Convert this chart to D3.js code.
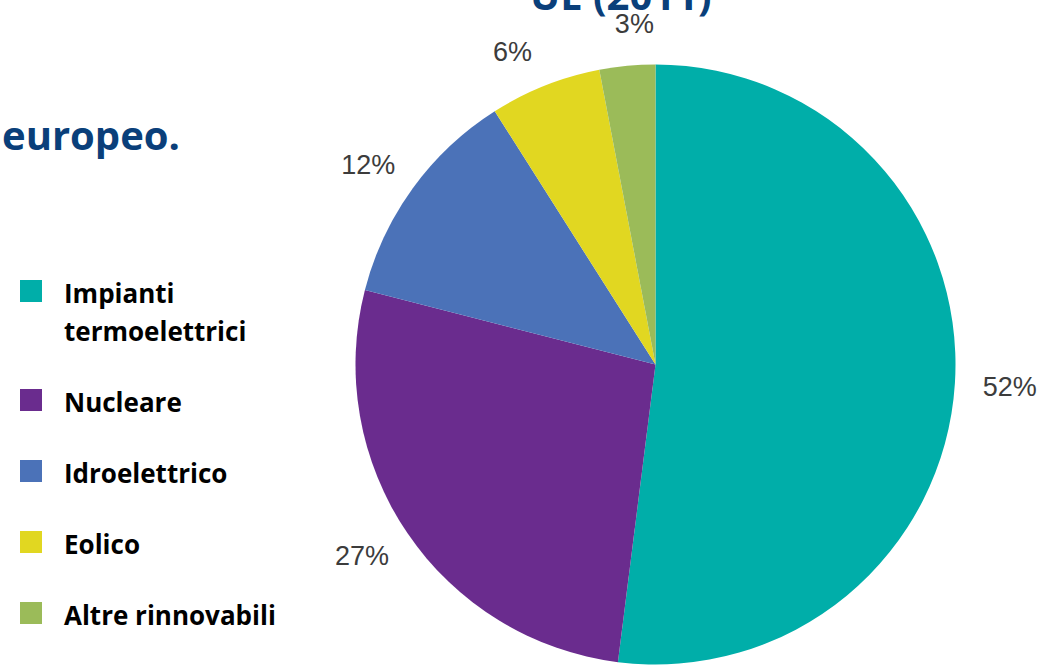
<!DOCTYPE html>
<html>
<head>
<meta charset="utf-8">
<script src="https://cdn.jsdelivr.net/npm/d3@7"></script>
<style>
  html, body { margin: 0; padding: 0; background: #fff; }
  svg { display: block; }
</style>
</head>
<body>
<script>
const categories = ["Impianti termoelettrici", "Nucleare", "Idroelettrico", "Eolico", "Altre rinnovabili"]
const legendLines = [["Impianti", "termoelettrici"], ["Nucleare"], ["Idroelettrico"], ["Eolico"], ["Altre rinnovabili"]]
const shares = [52, 27, 12, 6, 3]
const colors = ["#00aea9", "#6a2c8e", "#4b72b8", "#e1d721", "#9bbb59"]
const titleTop = "UE (2011)"
const titleLeft = "europeo."

const width = 1057, height = 666
const cx = 655.5, cy = 364.5, radius = 300

const svg = d3.select("body").append("svg")
    .attr("width", width)
    .attr("height", height)

// pezzi della torta, in senso orario da ore 12
const pie = d3.pie().sort(null).value(d => d)
const arcs = pie(shares)
const arc = d3.arc().innerRadius(0).outerRadius(radius)

const pieGroup = svg.append("g").attr("transform", `translate(${cx},${cy})`)

pieGroup.selectAll("path")
    .data(arcs)
    .join("path")
    .attr("d", arc)
    .attr("fill", (d, i) => colors[i])

// etichette percentuali fuori dalla torta (ellisse un po' schiacciata)
const labelRx = 355, labelRy = 340, minLabelDist = 125
const labelPos = arcs.map(d => {
    const a = (d.startAngle + d.endAngle) / 2
    return {x: labelRx * Math.sin(a), y: -labelRy * Math.cos(a)}
})
// le etichette vicine si allontanano un po' tra loro
for (let k = 0; k < 10; k++) {
    for (let i = 0; i < labelPos.length; i++) {
        const p = labelPos[i], q = labelPos[(i + 1) % labelPos.length]
        const dx = q.x - p.x, dy = q.y - p.y
        const dist = Math.hypot(dx, dy)
        if (dist < minLabelDist) {
            const push = (minLabelDist - dist) / 2
            p.x -= dx / dist * push; p.y -= dy / dist * push
            q.x += dx / dist * push; q.y += dy / dist * push
        }
    }
}

pieGroup.selectAll("text.pct")
    .data(arcs)
    .join("text")
    .attr("class", "pct")
    .attr("x", (d, i) => labelPos[i].x)
    .attr("y", (d, i) => labelPos[i].y)
    .attr("dy", "0.36em")
    .attr("text-anchor", "middle")
    .style("font-family", "'Liberation Sans', Arial, sans-serif")
    .style("font-size", "27px")
    .attr("fill", "#3c3c3c")
    .text(d => `${d.data}%`)

// titoli (tagliati dal bordo come nell'originale)
svg.append("text")
    .attr("x", 530)
    .attr("y", 10)
    .style("font-family", "'Open Sans', sans-serif")
    .style("font-weight", "bold")
    .style("font-size", "40px")
    .attr("fill", "#0a3f7a")
    .text(titleTop)

svg.append("text")
    .attr("x", 2)
    .attr("y", 150)
    .style("font-family", "'Open Sans', sans-serif")
    .style("font-weight", "bold")
    .style("font-size", "40px")
    .attr("fill", "#0a3f7a")
    .text(titleLeft)

// legenda
const legend = svg.append("g").attr("class", "legend")
const lineHeight = 38, itemGap = 71
let baseline = 303
categories.forEach((name, i) => {
    const item = legend.append("g")
    item.append("rect")
        .attr("x", 20)
        .attr("y", baseline - 23)
        .attr("width", 22)
        .attr("height", 22)
        .attr("fill", colors[i])
    legendLines[i].forEach((line, j) => {
        item.append("text")
            .attr("x", 64)
            .attr("y", baseline + j * lineHeight)
            .style("font-family", "'Open Sans', sans-serif")
            .style("font-weight", "bold")
            .style("font-size", "26px")
            .attr("fill", "#000")
            .text(line)
    })
    baseline += (legendLines[i].length - 1) * lineHeight + itemGap
})
</script>
</body>
</html>
